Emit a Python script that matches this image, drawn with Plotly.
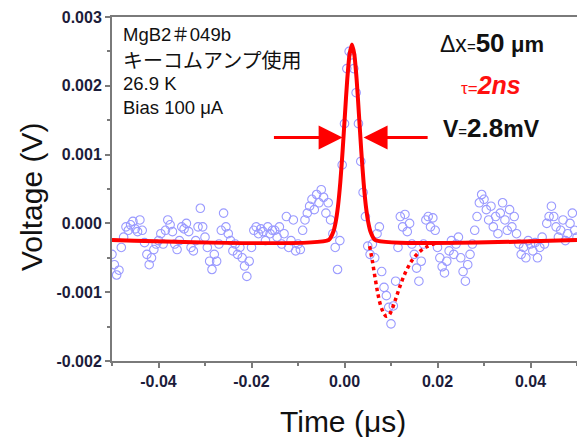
import numpy as np
import plotly.graph_objects as go

# ---- measured data (voltage in mV, sampled every 0.0005 us from -0.05 us) ----
t_start = -0.05
t_step = 0.0005
signal_mv = [
    -0.45, -0.60, -0.75, -0.68, -0.35, -0.20, -0.05, -0.10, -0.02, 0.03,
    -0.08, -0.12, 0.05, -0.10, -0.28, -0.45, -0.60, -0.50, -0.38, -0.30,
    -0.25, -0.15, -0.30, -0.10, 0.05, -0.02, -0.12, -0.30, -0.38, -0.25,
    -0.05, -0.08, 0.00, -0.12, -0.35, -0.40, -0.25, -0.05, 0.22, -0.05,
    -0.20, -0.35, -0.55, -0.67, -0.45, -0.55, -0.30, -0.10, 0.15, -0.05,
    -0.15, -0.25, -0.40, -0.30, -0.45, -0.35, -0.50, -0.62, -0.77, -0.55,
    -0.35, -0.10, -0.05, -0.15, -0.08, -0.12, -0.25, -0.05, -0.15, -0.10,
    -0.10, -0.20, -0.05, -0.30, -0.15, 0.10, -0.35, -0.25, 0.05, -0.40,
    -0.30, -0.38, -0.10, 0.05, 0.15, 0.25, 0.35, 0.20, 0.42, 0.30,
    0.49, 0.38, 0.15, 0.30, 0.05, -0.15, -0.35, -0.67, -0.25, 0.85,
    1.45, 2.25, 2.50, 2.45, 2.25, 1.90, 1.45, 0.90, 0.45, 0.10,
    -0.33, -0.45, -0.30, -0.50, -0.15, -0.05, -0.70, -0.93, -1.05, -1.22,
    -1.46, -1.20, -0.84, -0.35, 0.10, -0.05, 0.13, -0.12, 0.00, -0.30,
    -0.45, -0.65, -0.84, -0.55, -0.30, 0.05, 0.10, -0.05, 0.08, -0.10,
    -0.35, -0.50, -0.63, -0.72, -0.55, -0.40, -0.25, -0.45, -0.30, -0.20,
    -0.50, -0.70, -0.84, -0.60, -0.45, -0.30, -0.10, 0.10, 0.30, 0.42,
    0.35, 0.20, 0.05, 0.25, -0.05, 0.10, -0.15, 0.15, 0.30, 0.05,
    -0.10, 0.20, -0.05, 0.10, -0.15, -0.30, -0.45, -0.35, -0.50, -0.25,
    -0.30, -0.40, -0.28, -0.50, -0.35, -0.20, -0.30, 0.00, 0.10, 0.25,
    0.10, -0.05, -0.20, -0.10, 0.05, -0.25, -0.15, 0.00, 0.15, -0.10,
    -0.20,
]

# fitted pulse (red solid)
fit_t = [-0.05, -0.0034, -0.0024, -0.0019, -0.0014, -0.0009, -0.0004, 0.0001,
         0.0006, 0.0011, 0.0016, 0.0021, 0.0026, 0.0031, 0.0036, 0.0041,
         0.0046, 0.0051, 0.0056, 0.0066, 0.05]
fit_mv = [-0.24, -0.24, -0.12, 0.02, 0.25, 0.60, 1.06, 1.59,
          2.10, 2.46, 2.60, 2.46, 2.10, 1.59, 1.06, 0.60,
          0.25, 0.02, -0.12, -0.24, -0.24]

# reflected dip (red dotted)
dip_t = [0.0054, 0.0060, 0.0066, 0.0072, 0.0078, 0.0084, 0.0090, 0.0096,
         0.0102, 0.0110, 0.0120, 0.0132, 0.0145, 0.0160, 0.0177, 0.0195]
dip_mv = [-0.33, -0.55, -0.80, -1.03, -1.20, -1.30, -1.35, -1.33,
          -1.25, -1.10, -0.90, -0.70, -0.54, -0.42, -0.34, -0.29]

x_ticks = [-0.04, -0.02, 0.00, 0.02, 0.04]
x_ticktext = ["-0.04", "-0.02", "0.00", "0.02", "0.04"]
y_ticks = [-0.002, -0.001, 0.000, 0.001, 0.002, 0.003]
y_ticktext = ["-0.002", "-0.001", "0.000", "0.001", "0.002", "0.003"]

info_lines = ["MgB2＃049b", "キーコムアンプ使用", "26.9 K", "Bias 100 μA"]

# ---------------------------------------------------------------------------
t = np.round(t_start + t_step * np.arange(len(signal_mv)), 5)
v = np.array(signal_mv) * 1e-3

fig = go.Figure()
fig.add_trace(go.Scatter(
    x=t, y=v, mode="markers",
    marker=dict(symbol="circle-open", size=8.5, color="#9a9aff",
                line=dict(width=1.1, color="#9a9aff")),
    showlegend=False))
fig.add_trace(go.Scatter(
    x=fit_t, y=np.array(fit_mv) * 1e-3, mode="lines",
    line=dict(color="#ff0000", width=4, shape="spline", smoothing=0.6),
    showlegend=False))
fig.add_trace(go.Scatter(
    x=dip_t, y=np.array(dip_mv) * 1e-3, mode="lines",
    line=dict(color="#ff0000", width=3.5, dash="dot", shape="spline"),
    showlegend=False))

base_font = "Liberation Sans, Arial, Noto Sans CJK JP, sans-serif"
jp_font = "Noto Sans CJK JP, Liberation Sans, sans-serif"

ann = []
rows_y = [35, 59, 83, 107]
for i, (txt, py) in enumerate(zip(info_lines, rows_y)):
    is_jp = (i == 1)
    ann.append(dict(text=txt, xref="paper", yref="paper",
                    x=(121 - 112) / 465, y=(361 - py) / 344,
                    xanchor="left", yanchor="middle", showarrow=False,
                    font=dict(size=20 if is_jp else 18.5, color="#111111",
                              family=jp_font if is_jp else base_font)))

ann.append(dict(text="Δx<span style='font-size:15px'>=</span><b style='font-size:26px'>50</b> <b style='font-size:22px'>μm</b>",
                xref="paper", yref="paper", x=(492 - 112) / 465, y=(361 - 43) / 344,
                xanchor="center", yanchor="middle", showarrow=False,
                font=dict(size=23, color="#111111", family=base_font)))
ann.append(dict(text="<span style='font-size:17px'>τ=</span><b><i style='font-size:25px'>2ns</i></b>",
                xref="paper", yref="paper", x=(491 - 112) / 465, y=(361 - 85) / 344,
                xanchor="center", yanchor="middle", showarrow=False,
                font=dict(size=22, color="#ff1010", family=base_font)))
ann.append(dict(text="<b>V</b><span style='font-size:15px'>=</span><b style='font-size:26px'>2.8</b><b>mV</b>",
                xref="paper", yref="paper", x=(491 - 112) / 465, y=(361 - 128) / 344,
                xanchor="center", yanchor="middle", showarrow=False,
                font=dict(size=23, color="#111111", family=base_font)))

# FWHM arrows
for tip, tail in [(-0.0004, -0.0155), (0.0041, 0.0182)]:
    ann.append(dict(text="", x=tip, y=0.00125, ax=tail, ay=0.00125,
                    xref="x", yref="y", axref="x", ayref="y",
                    showarrow=True, arrowhead=2, arrowsize=1.6, arrowwidth=3,
                    arrowcolor="#ff0000", standoff=0))

# axis titles
ann.append(dict(text="Time (μs)", xref="paper", yref="paper",
                x=(343 - 112) / 465, y=(361 - 421) / 344, xanchor="center", yanchor="middle",
                showarrow=False, font=dict(size=30, color="#111111", family=base_font)))
ann.append(dict(text="Voltage (V)", xref="paper", yref="paper",
                x=(31 - 112) / 465, y=(361 - 197) / 344, xanchor="center", yanchor="middle",
                textangle=-90, showarrow=False,
                font=dict(size=30, color="#111111", family=base_font)))

axis_common = dict(showline=True, linecolor="#7a7a7a", linewidth=2,
                   ticks="outside", ticklen=5, tickcolor="#7a7a7a", tickwidth=1.5,
                   showgrid=False, zeroline=False,
                   tickfont=dict(size=16, color="#1c1c3a", family=base_font))

fig.update_layout(
    width=577, height=437,
    margin=dict(l=112, r=0, t=17, b=76),
    paper_bgcolor="white", plot_bgcolor="white",
    annotations=ann,
    xaxis=dict(range=[-0.05, 0.05], tickvals=x_ticks,
               ticktext=["<b>%s</b>" % s for s in x_ticktext], mirror=True,
               minor=dict(ticks="outside", ticklen=3, tickcolor="#7a7a7a",
                          dtick=0.01, tick0=0, showgrid=False),
               **axis_common),
    yaxis=dict(range=[-0.002, 0.003], tickvals=y_ticks,
               ticktext=["<b>%s</b>" % s for s in y_ticktext],
               minor=dict(ticks="outside", ticklen=3, tickcolor="#7a7a7a",
                          dtick=0.0005, tick0=0, showgrid=False),
               **axis_common),
)

fig.write_html("out.html")
